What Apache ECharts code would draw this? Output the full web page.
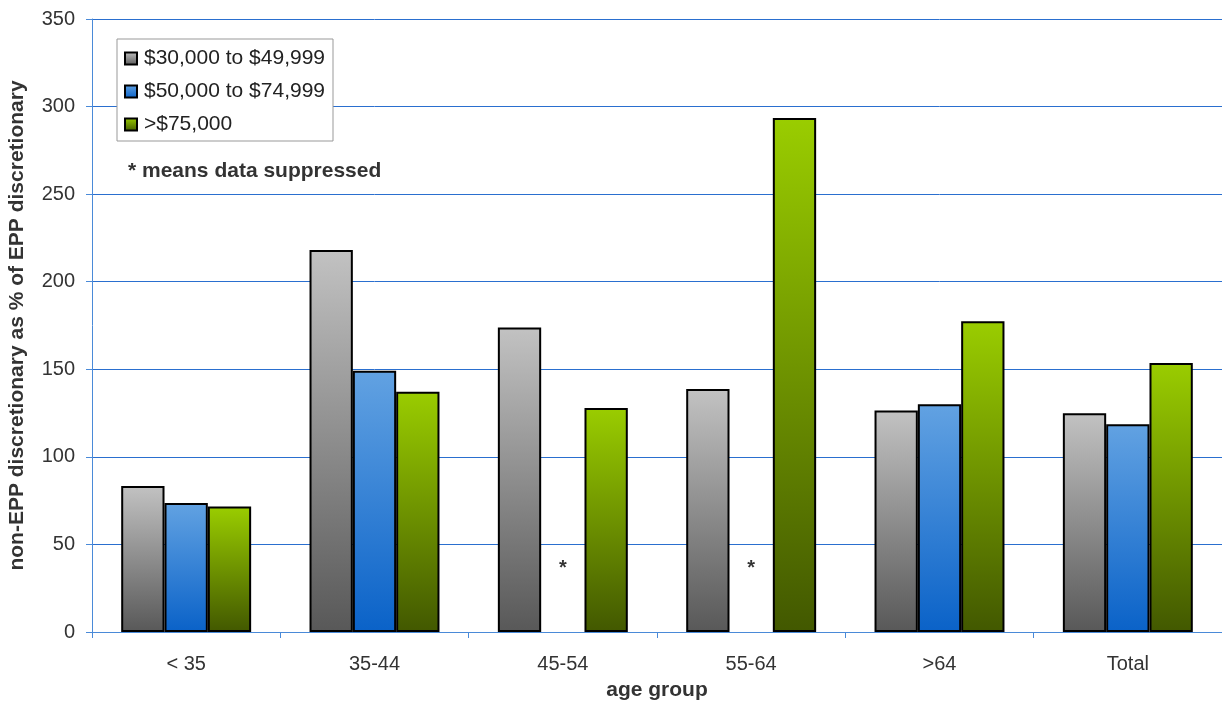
<!DOCTYPE html>
<html><head><meta charset="utf-8">
<script src="https://cdn.jsdelivr.net/npm/echarts@6/dist/echarts.min.js"></script>
<style>html,body{margin:0;padding:0;background:#fff}#c{width:1222px;height:702px}</style>
</head><body><div id="c"></div>
<script>
const categories = ['< 35', '35-44', '45-54', '55-64', '>64', 'Total'];
const seriesNames = ['$30,000 to $49,999', '$50,000 to $74,999', '>$75,000'];
const income30to50 = [83.4, 218.1, 173.8, 138.7, 126.4, 124.9];
const income50to75 = [73.7, 149.2, null, null, 130.0, 118.6];
const income75plus = [71.6, 137.2, 127.9, 293.5, 177.4, 153.6];
const suppressedMarks = [null, null, 36, 36, null, null];
const yTicks = [0, 50, 100, 150, 200, 250, 300, 350];

const FONT = 'Liberation Sans, Arial, sans-serif';
function grad(top, bottom) {
  return new echarts.graphic.LinearGradient(0, 0, 0, 1, [
    {offset: 0, color: top}, {offset: 1, color: bottom}
  ]);
}
const colors = [
  ['#c2c2c2', '#585858'],
  ['#62a2e2', '#0a62c8'],
  ['#9acd00', '#425800']
];
const dataSets = [income30to50, income50to75, income75plus];
const chart = echarts.init(document.getElementById('c'), null, {renderer: 'canvas'});
const barSeries = dataSets.map((d, i) => ({
  name: seriesNames[i],
  type: 'bar',
  data: d,
  barGap: '0%',
  barCategoryGap: '31%',
  itemStyle: {color: grad(colors[i][0], colors[i][1]), borderColor: '#000', borderWidth: 2},
  emphasis: {disabled: true}
}));
chart.setOption({
  animation: false,
  backgroundColor: '#fff',
  grid: {left: 92, right: 0, top: 19, bottom: 70, containLabel: false, outerBoundsMode: 'none'},
  title: {
    text: '* means data suppressed', left: 123, top: 156,
    textStyle: {fontFamily: FONT, fontSize: 21, fontWeight: 'bold', color: '#333'}
  },
  legend: {
    orient: 'vertical', left: 117, top: 39,
    data: seriesNames,
    icon: 'rect', itemWidth: 12, itemHeight: 12, itemGap: 12,
    padding: [9, 8, 6, 7],
    borderColor: '#999', borderWidth: 1, backgroundColor: '#fff',
    textStyle: {fontFamily: FONT, fontSize: 21, color: '#222', padding: [0, 0, 0, 2]},
    itemStyle: {borderColor: '#000', borderWidth: 2}
  },
  xAxis: {
    type: 'category', data: categories,
    name: 'age group', nameLocation: 'middle', nameGap: 48,
    nameTextStyle: {fontFamily: FONT, fontSize: 21, fontWeight: 'bold', color: '#333'},
    axisLine: {lineStyle: {color: '#4a8ad8', width: 1}},
    axisTick: {show: true, alignWithLabel: false, length: 6, lineStyle: {color: '#4a8ad8'}},
    axisLabel: {fontFamily: FONT, fontSize: 20, color: '#333', margin: 22}
  },
  yAxis: {
    type: 'value', min: 0, max: 350, interval: 50,
    name: 'non-EPP discretionary as % of EPP discretionary',
    nameLocation: 'middle', nameGap: 64, nameRotate: 90,
    nameTextStyle: {fontFamily: FONT, fontSize: 21, fontWeight: 'bold', color: '#333'},
    axisLine: {show: true, lineStyle: {color: '#4a8ad8', width: 1}},
    axisTick: {show: true, length: 6, lineStyle: {color: '#4a8ad8'}},
    splitLine: {lineStyle: {color: '#2a6fcf', width: 1}},
    axisLabel: {fontFamily: FONT, fontSize: 20, color: '#333', margin: 17,
      formatter: v => yTicks.includes(v) ? String(v) : ''}
  },
  series: barSeries.concat([{
    name: 'suppressed', type: 'scatter', data: suppressedMarks,
    symbolSize: 0, silent: true,
    label: {show: true, formatter: '*', position: 'inside',
      fontFamily: FONT, fontSize: 20, fontWeight: 'bold', color: '#000'}
  }])
});
</script></body></html>
